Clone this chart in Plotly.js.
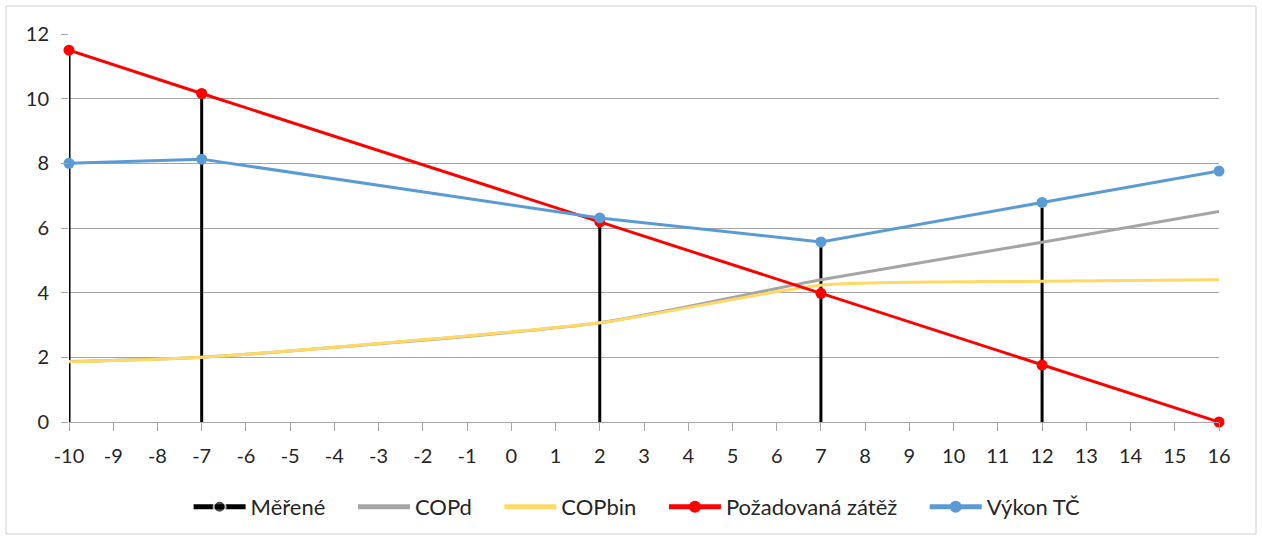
<!DOCTYPE html>
<html><head><meta charset="utf-8">
<script src="https://cdn.plot.ly/plotly-3.0.1.min.js"></script>
<style>body{margin:0;background:#fff}#chart{width:1262px;height:540px}</style>
</head><body><div id="chart"></div>
<script>
// Data
const xs = [-10, -7, 2, 7, 12, 16];
const measuredX = [-10, -7, 2, 7, 12];
const copD = [1.87, 2.0, 3.07, 4.40, 5.56, 6.51];
const copBin = [1.86, 2.0, 3.07, 4.23, 4.35, 4.40];
const pozadovana = [11.5, 10.16, 6.19, 3.98, 1.76, 0];
const vykon = [8.0, 8.13, 6.31, 5.57, 6.79, 7.76];
const names = ['Měřené', 'COPd', 'COPbin', 'Požadovaná zátěž', 'Výkon TČ'];
const xTickVals = [-10,-9,-8,-7,-6,-5,-4,-3,-2,-1,0,1,2,3,4,5,6,7,8,9,10,11,12,13,14,15,16];
const xTickText = xTickVals.map(v => String(v));
const yTickVals = [0, 2, 4, 6, 8, 10, 12];

// Drop lines: from the axis up to the highest value at each measured point
const dropX = [], dropY = [], dropSize = [];
measuredX.forEach((x) => {
  const i = xs.indexOf(x);
  const top = Math.max(pozadovana[i], vykon[i]);
  dropX.push(x, x, null);
  dropY.push(0, top, null);
  dropSize.push(0, 10, 10);
});

const FONT = 'Lato, "Open Sans", sans-serif';
const PAD = '\u00a0\u00a0\u00a0\u00a0';
const traces = [
  {x: dropX, y: dropY, name: names[0] + PAD, mode: 'lines+markers', connectgaps: false,
   line: {color: '#000000', width: 3}, marker: {color: '#000000', size: dropSize}},
  {x: xs, y: copD, name: names[1] + PAD, mode: 'lines', line: {color: '#A5A5A5', width: 3, shape: 'spline', smoothing: 0.6}},
  {x: xs, y: copBin, name: names[2] + PAD, mode: 'lines', line: {color: '#FFD966', width: 3, shape: 'spline', smoothing: 0.6}},
  {x: xs, y: pozadovana, name: names[3] + PAD, mode: 'lines+markers', cliponaxis: false,
   line: {color: '#FF0000', width: 3}, marker: {color: '#FF0000', size: 11}},
  {x: xs, y: vykon, name: names[4], mode: 'lines+markers', cliponaxis: false,
   line: {color: '#5B9BD5', width: 3}, marker: {color: '#5B9BD5', size: 11}}
];

const layout = {
  width: 1262, height: 540,
  margin: {l: 69, r: 43, t: 34, b: 118},
  paper_bgcolor: '#ffffff', plot_bgcolor: '#ffffff',
  font: {family: FONT, size: 20, color: '#262626'},
  showlegend: true,
  legend: {orientation: 'h', x: 0.494, xanchor: 'center', y: -0.219, yanchor: 'middle',
           font: {family: FONT, size: 22, color: '#262626'}, itemwidth: 52, itemsizing: 'constant'},
  xaxis: {range: [-10, 16], tickmode: 'array', tickvals: xTickVals, ticktext: xTickText,
          showgrid: false, zeroline: false,
          showline: true, linecolor: '#A6A6A6', linewidth: 1, ticklabelstandoff: 8,
          ticks: 'outside', ticklen: 8, tickcolor: '#A6A6A6', tickfont: {family: FONT, size: 20, color: '#262626'}},
  yaxis: {range: [0, 12], tickmode: 'array', tickvals: yTickVals, showgrid: true, gridcolor: '#A6A6A6', gridwidth: 1,
          zeroline: false, showline: false,
          ticks: 'outside', ticklen: 7, tickcolor: '#A6A6A6', ticklabelstandoff: 8,
          tickfont: {family: FONT, size: 20, color: '#262626'}},
  shapes: [{type: 'rect', xref: 'paper', yref: 'paper',
            x0: (6 - 69) / 1150, x1: (1256 - 69) / 1150,
            y0: (422 - 534) / 388, y1: (422 - 6) / 388,
            line: {color: '#D0D0D0', width: 1}, layer: 'below'}]
};

Plotly.newPlot('chart', traces, layout, {displayModeBar: false, staticPlot: true});
</script></body></html>
